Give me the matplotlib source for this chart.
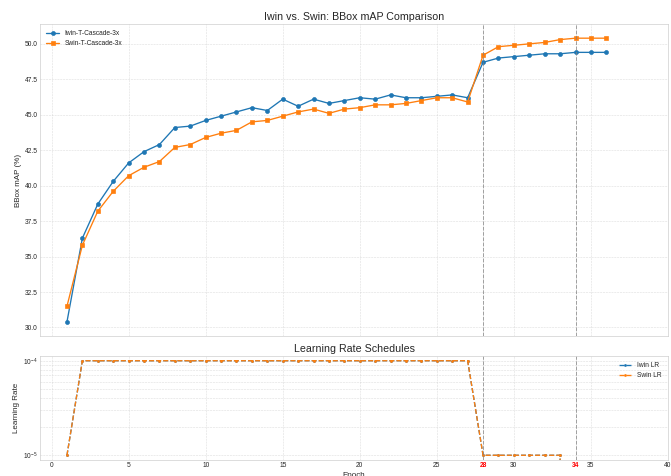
import matplotlib
matplotlib.use("Agg")
import matplotlib.pyplot as plt

plt.style.use("seaborn-v0_8-whitegrid")
plt.rcParams["font.family"] = ["Liberation Sans", "DejaVu Sans"]

# Validation BBox mAP per epoch
epochs = list(range(1, 37))
iwin_map = [30.4, 36.3, 38.7, 40.3, 41.6, 42.4, 42.9, 44.1, 44.2, 44.6,
            44.9, 45.2, 45.5, 45.3, 46.1, 45.6, 46.1, 45.8, 46.0, 46.2,
            46.1, 46.4, 46.2, 46.2, 46.3, 46.4, 46.2, 48.7, 49.0, 49.1,
            49.2, 49.3, 49.3, 49.4, 49.4, 49.4]
swin_map = [31.5, 35.8, 38.2, 39.6, 40.7, 41.3, 41.7, 42.7, 42.9, 43.4,
            43.7, 43.9, 44.5, 44.6, 44.9, 45.2, 45.4, 45.1, 45.4, 45.5,
            45.7, 45.7, 45.8, 46.0, 46.2, 46.2, 45.9, 49.2, 49.8, 49.9,
            50.0, 50.1, 50.3, 50.4, 50.4, 50.4]

# Learning-rate schedule per epoch (warmup, step decay at 28, end at 34)
lr_epochs = list(range(1, 35))
iwin_lr = [1e-5] + [1e-4] * 26 + [1e-5] * 6 + [0.0]
swin_lr = [1e-5] + [1e-4] * 26 + [1e-5] * 6 + [0.0]

decay_epochs = [28, 34]
xticks = [0, 5, 10, 15, 20, 25, 30, 35, 40]

W, H, DPI = 671, 476, 48
fig = plt.figure(figsize=(W / DPI, H / DPI), dpi=DPI)
ax1 = fig.add_axes([40 / W, 1 - 336 / H, 628 / W, 312 / H])
ax2 = fig.add_axes([40 / W, 1 - 460 / H, 628 / W, 104 / H], sharex=ax1)

ax1.plot(epochs, iwin_map, marker="o", color="#1f77b4", linewidth=2,
         markersize=6, label="Iwin-T-Cascade-3x")
ax1.plot(epochs, swin_map, marker="s", color="#ff7f0e", linewidth=2,
         markersize=6, label="Swin-T-Cascade-3x")
ax1.set_title("Iwin vs. Swin: BBox mAP Comparison", fontsize=16)
ax1.set_ylabel("BBox mAP (%)", fontsize=12)
ax1.legend(loc="upper left", fontsize=10)
ax1.grid(True, linestyle="--", alpha=0.7)
plt.setp(ax1.get_xticklabels(), visible=False)

ax2.plot(lr_epochs, iwin_lr, linestyle="--", marker=".", color="#1f77b4",
         linewidth=2, label="Iwin LR")
ax2.plot(lr_epochs, swin_lr, linestyle="--", marker=".", color="#ff7f0e",
         linewidth=2, label="Swin LR")
ax2.set_yscale("log")
ax2.set_title("Learning Rate Schedules", fontsize=16)
ax2.set_ylabel("Learning Rate", fontsize=12)
ax2.set_xlabel("Epoch", fontsize=12)
ax2.legend(loc="upper right", fontsize=10)
ax2.grid(True, which="both", linestyle="--", alpha=0.7)

for ax in (ax1, ax2):
    for e in decay_epochs:
        ax.axvline(e, color="gray", linestyle="--", alpha=0.7, linewidth=1.5)

ax2.set_xticks(sorted(xticks + decay_epochs))
for lbl in ax2.get_xticklabels():
    if lbl.get_text() in {str(e) for e in decay_epochs}:
        lbl.set_color("red")
        lbl.set_fontweight("bold")

fig.savefig("out.png", dpi=DPI)
